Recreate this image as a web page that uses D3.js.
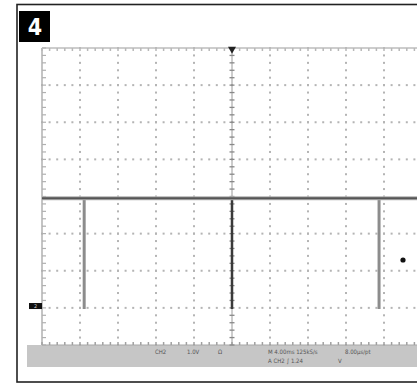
<!DOCTYPE html>
<html><head><meta charset="utf-8">
<script src="https://cdn.jsdelivr.net/npm/d3@7"></script>
<style>body{margin:0;background:#fff;}svg{display:block;}</style>
</head><body>
<svg id="c" width="417" height="384"></svg>
<script>
// ---- data ----
const xDivs = [-5,-4,-3,-2,-1,0,1,2,3,4,5];          // horizontal divisions
const yVolts = [-1.05,-0.05,0.95,1.95,2.95,3.95,4.95,5.95,6.95]; // graticule lines (1 V/div)
const pulseTimes = [-3.89, 0, 3.87];                 // pulse positions (div)
const baselineV = 2.9;                               // high level (V)
const pulseLowV = -0.08;                             // low level (V)
const triggerLevel = 1.24;                           // trigger level (V)
const triggerMarkX = 4.5;
const panelLabel = "4";
const statusLine1 = [["CH2",155],["1.0V",187],["Ω",218]];
const statusLine2 = [["M 4.00ms  125kS/s",268],["8.00µs/pt",345]];
const statusLine3 = [["A  CH2  ∫   1.24",268],["V",338]];

const svg = d3.select("#c");
const x = d3.scaleLinear().domain([-5,5]).range([42,422]);
const y = d3.scaleLinear().domain([-1.05,6.95]).range([345,48]);

// outer frame
svg.append("rect").attr("x",17).attr("y",4.5).attr("width",420).attr("height",377.5)
  .attr("fill","none").attr("stroke","#222").attr("stroke-width",1.6);

// panel label
svg.append("rect").attr("x",19).attr("y",11).attr("width",31).attr("height",31).attr("fill","#000");
svg.append("text").attr("x",35).attr("y",35).attr("text-anchor","middle")
  .attr("font-family","DejaVu Sans Condensed, DejaVu Sans, sans-serif").attr("font-weight","bold")
  .attr("font-size",23).attr("fill","#fff").text(panelLabel);

// status bar
svg.append("rect").attr("x",27).attr("y",345).attr("width",400).attr("height",22).attr("fill","#c6c6c6");

const g = svg.append("g");
const minor = 0.2;
// dotted major lines
xDivs.forEach(d=>{
  if (d===0 || d===-5 || d===5) return;
  const pts = d3.range(-1.05, 6.95+1e-6, minor);
  g.selectAll(null).data(pts).enter().append("rect")
    .attr("x",x(d)-1).attr("y",v=>y(v)-1).attr("width",2).attr("height",2).attr("fill","#b4b4b4");
});
yVolts.forEach(v=>{
  if (v===2.95 || v===yVolts[0] || v===yVolts[yVolts.length-1]) return;
  const pts = d3.range(-5, 5+1e-6, minor);
  g.selectAll(null).data(pts).enter().append("rect")
    .attr("x",t=>x(t)-1).attr("y",y(v)-1).attr("width",2).attr("height",2).attr("fill","#b4b4b4");
});
// border lines with ticks
g.append("line").attr("x1",x(-5)).attr("x2",x(-5)).attr("y1",y(6.95)).attr("y2",y(-1.05))
  .attr("stroke","#b0b0b0").attr("stroke-width",1.5);
g.append("line").attr("x1",x(-5)).attr("x2",x(5)).attr("y1",y(6.95)).attr("y2",y(6.95))
  .attr("stroke","#bdbdbd").attr("stroke-width",1.5);
g.append("line").attr("x1",x(-5)).attr("x2",x(5)).attr("y1",y(-1.05)).attr("y2",y(-1.05))
  .attr("stroke","#a8a8a8").attr("stroke-width",1.2);
d3.range(-1.05, 6.95+1e-6, minor).forEach(v=>{
  g.append("line").attr("x1",x(-5)).attr("x2",x(-5)+4).attr("y1",y(v)).attr("y2",y(v)).attr("stroke","#b0b0b0").attr("stroke-width",1.2);
});
d3.range(-5, 5+1e-6, minor).forEach(t=>{
  g.append("line").attr("x1",x(t)).attr("x2",x(t)).attr("y1",y(6.95)).attr("y2",y(6.95)+3).attr("stroke","#b8b8b8").attr("stroke-width",1.5);
  g.append("line").attr("x1",x(t)).attr("x2",x(t)).attr("y1",y(-1.05)).attr("y2",y(-1.05)-3).attr("stroke","#a0a0a0").attr("stroke-width",1.5);
});
// center vertical axis with ticks
g.append("line").attr("x1",x(0)).attr("x2",x(0)).attr("y1",y(6.95)).attr("y2",y(-1.05))
  .attr("stroke","#9a9a9a").attr("stroke-width",1);
d3.range(-1.05, 6.95+1e-6, minor).forEach(v=>{
  g.append("line").attr("x1",x(0)-2.5).attr("x2",x(0)+2.5).attr("y1",y(v)).attr("y2",y(v)).attr("stroke","#888").attr("stroke-width",1.3);
});
// trigger position marker
svg.append("path").attr("d",d3.symbol(d3.symbolTriangle,28)()).attr("transform",`translate(${x(0)},${y(6.95)+1}) rotate(180)`).attr("fill","#222");

// trace
const trace = [];
trace.push([-5, baselineV]);
pulseTimes.forEach(t=>{ trace.push([t-0.01,baselineV]); trace.push([t,pulseLowV]); trace.push([t+0.01,baselineV]); });
trace.push([5, baselineV]);
// spikes
pulseTimes.forEach(t=>{
  svg.append("line").attr("x1",x(t)).attr("x2",x(t)).attr("y1",y(baselineV)).attr("y2",y(pulseLowV))
    .attr("stroke", t===0 ? "#3a3a3a" : "#8c8c8c").attr("stroke-width", t===0 ? 2.5 : 3);
});
svg.append("path").datum(trace.filter((d,i)=>true))
  .attr("d", d3.line().x(d=>x(d[0])).y(d=>y(baselineV))(trace))
  .attr("fill","none").attr("stroke","#b0b0b0").attr("stroke-width",4);
svg.append("path")
  .attr("d", d3.line().x(d=>x(d[0])).y(d=>y(baselineV))(trace))
  .attr("fill","none").attr("stroke","#555").attr("stroke-width",2);

// ground marker
svg.append("rect").attr("x",29).attr("y",y(0)-3).attr("width",13).attr("height",6).attr("fill","#111");
svg.append("text").attr("x",35.5).attr("y",y(0)+2).attr("text-anchor","middle").attr("font-size",5)
  .attr("font-family","DejaVu Sans, sans-serif").attr("fill","#ccc").text("2");
// trigger level marker
svg.append("circle").attr("cx",x(triggerMarkX)).attr("cy",y(triggerLevel)).attr("r",2.6).attr("fill","#111");

// status text
const st = svg.append("g").attr("font-family","DejaVu Sans Condensed, DejaVu Sans, sans-serif")
  .attr("font-size",6).attr("fill","#555");
statusLine1.forEach(([s,px])=>st.append("text").attr("x",px).attr("y",354).text(s));
statusLine2.forEach(([s,px])=>st.append("text").attr("x",px).attr("y",354).text(s));
statusLine3.forEach(([s,px])=>st.append("text").attr("x",px).attr("y",363).text(s));
</script>
</body></html>
